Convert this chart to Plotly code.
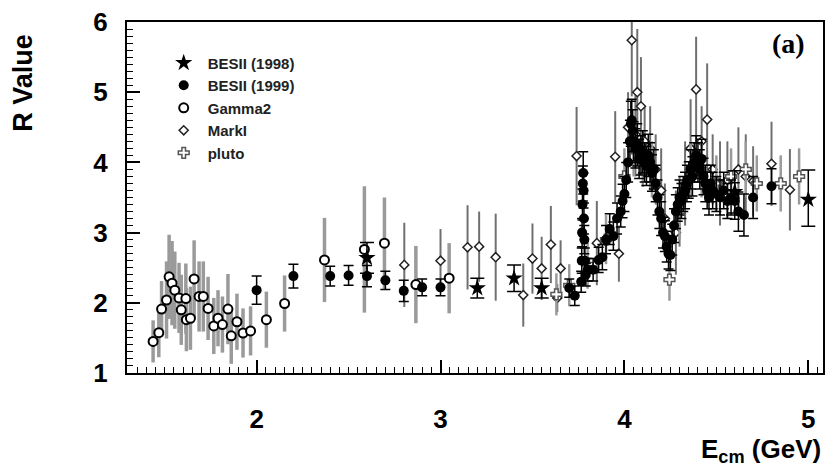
import plotly.graph_objects as go

# ---------------- data ----------------
# BESII (1998)  stars
b98_x = [2.6, 3.2, 3.4, 3.55, 4.6, 5.0]
b98_y = [2.64, 2.21, 2.35, 2.21, 3.58, 3.47]
b98_ep = [0.22, 0.14, 0.19, 0.14, 0.30, 0.42]
b98_em = [0.22, 0.14, 0.19, 0.14, 0.30, 0.38]

# BESII (1999)  filled circles
b99_x = [2.0, 2.2, 2.4, 2.5, 2.6, 2.7, 2.8, 2.9, 3.0, 3.7, 3.73,
         3.765, 3.768, 3.770, 3.772, 3.774, 3.776, 3.778, 3.780, 3.782, 3.785, 3.79,
         3.80, 3.83, 3.86, 3.88, 3.90, 3.92, 3.94, 3.96, 3.98, 3.99, 4.00, 4.01,
         4.02, 4.03, 4.035, 4.04, 4.045, 4.05, 4.06, 4.07, 4.08, 4.09, 4.10, 4.11,
         4.12, 4.13, 4.14, 4.15, 4.16, 4.17, 4.18, 4.19, 4.20, 4.21, 4.22, 4.23,
         4.24, 4.25, 4.26, 4.27, 4.28, 4.29, 4.30, 4.31, 4.32, 4.33, 4.34, 4.35,
         4.36, 4.37, 4.38, 4.39, 4.40, 4.41, 4.42, 4.43, 4.44, 4.45, 4.46, 4.47,
         4.48, 4.50, 4.52, 4.54, 4.56, 4.58, 4.60, 4.62, 4.65, 4.70, 4.80]
b99_y = [2.18, 2.38, 2.38, 2.39, 2.38, 2.32, 2.17, 2.22, 2.22, 2.21, 2.10,
         2.30, 2.60, 3.00, 3.40, 3.70, 3.85, 3.60, 3.20, 2.90, 2.60, 2.40,
         2.47, 2.47, 2.61, 2.65, 2.90, 3.05, 2.95, 3.20, 3.30, 3.45, 3.55, 3.75,
         4.00, 4.30, 4.55, 4.60, 4.45, 4.30, 4.20, 4.25, 4.05, 4.10, 4.15, 4.00,
         3.95, 4.10, 4.00, 3.85, 3.90, 3.70, 3.50, 3.30, 3.20, 3.00, 2.95, 2.80,
         2.70, 2.68, 2.90, 3.10, 3.30, 3.40, 3.50, 3.45, 3.55, 3.60, 3.70, 3.75,
         3.90, 3.80, 4.00, 4.10, 4.00, 3.90, 4.05, 3.80, 3.70, 3.60, 3.50, 3.70,
         3.60, 3.55, 3.50, 3.60, 3.45, 3.50, 3.45, 3.30, 3.25, 3.50, 3.66]
b99_e = [0.20, 0.17, 0.14, 0.14, 0.15, 0.13, 0.15, 0.12, 0.12, 0.13, 0.14,
         0.15, 0.18, 0.20, 0.22, 0.25, 0.30, 0.25, 0.22, 0.20, 0.18, 0.16,
         0.16, 0.16, 0.18, 0.18, 0.20, 0.22, 0.20, 0.22, 0.22, 0.24, 0.25, 0.25,
         0.28, 0.30, 0.32, 0.30, 0.30, 0.28, 0.28, 0.30, 0.28, 0.28, 0.30, 0.28,
         0.28, 0.30, 0.28, 0.26, 0.28, 0.26, 0.25, 0.24, 0.24, 0.22, 0.22, 0.22,
         0.22, 0.22, 0.22, 0.24, 0.24, 0.24, 0.25, 0.25, 0.25, 0.26, 0.26, 0.26,
         0.28, 0.28, 0.28, 0.28, 0.28, 0.28, 0.28, 0.26, 0.26, 0.26, 0.25, 0.26,
         0.26, 0.25, 0.25, 0.26, 0.25, 0.25, 0.26, 0.28, 0.30, 0.30, 0.25]

# Gamma2  open circles
g2_x = [1.437, 1.468, 1.483, 1.51, 1.524, 1.54, 1.555, 1.578, 1.59, 1.615, 1.618,
        1.64, 1.66, 1.687, 1.71, 1.736, 1.767, 1.79, 1.814, 1.844, 1.862, 1.893,
        1.926, 1.967, 2.053, 2.152, 2.369, 2.586, 2.695, 2.866, 3.047]
g2_y = [1.45, 1.575, 1.91, 2.04, 2.37, 2.28, 2.18, 2.07, 1.90, 2.06, 1.76,
        1.78, 2.34, 2.09, 2.09, 1.92, 1.67, 1.78, 1.69, 1.91, 1.53, 1.73,
        1.57, 1.60, 1.76, 1.99, 2.61, 2.76, 2.85, 2.26, 2.35]
g2_e = [0.30, 0.35, 0.40, 0.55, 0.60, 0.60, 0.55, 0.50, 0.50, 0.50, 0.45,
        0.45, 0.55, 0.50, 0.50, 0.45, 0.40, 0.40, 0.40, 0.50, 0.40, 0.40,
        0.35, 0.35, 0.40, 0.40, 0.60, 0.90, 0.65, 0.55, 0.50]

# MarkI  open diamonds
m1_x = [2.803, 3.0, 3.147, 3.21, 3.30, 3.45, 3.50, 3.55, 3.60, 3.635, 3.653,
        3.74, 3.85, 3.95, 3.97, 4.02, 4.04, 4.06, 4.07, 4.09, 4.11, 4.14, 4.17,
        4.20, 4.22, 4.28, 4.30, 4.33, 4.36, 4.39, 4.42, 4.45, 4.48, 4.52, 4.56,
        4.62, 4.66, 4.70, 4.80, 4.90]
m1_y = [2.54, 2.60, 2.79, 2.80, 2.65, 2.11, 2.63, 2.49, 2.83, 2.07, 2.49,
        4.09, 2.85, 4.08, 2.70, 4.50, 5.74, 4.40, 5.00, 4.80, 4.30, 4.20, 3.90,
        3.60, 3.20, 3.00, 3.30, 3.70, 4.20, 5.04, 4.30, 4.61, 3.90, 3.70, 3.75,
        3.90, 3.80, 3.73, 3.98, 3.61]
m1_e = [0.60, 0.45, 0.60, 0.50, 0.62, 0.45, 0.50, 0.45, 0.55, 0.20, 0.40,
        0.70, 0.60, 0.65, 0.40, 0.50, 0.80, 0.60, 0.90, 0.70, 0.50, 0.60, 0.50,
        0.60, 0.50, 0.60, 0.50, 0.60, 0.70, 0.75, 0.50, 0.80, 0.50, 0.60, 0.55,
        0.60, 0.60, 0.50, 0.60, 0.58]

# pluto  open crosses
pl_x = [3.63, 3.70, 3.80, 3.90, 4.00, 4.05, 4.10, 4.15, 4.245, 4.30, 4.36,
        4.42, 4.50, 4.58, 4.66, 4.72, 4.85, 4.95]
pl_y = [2.12, 2.25, 2.55, 2.90, 3.80, 4.20, 4.05, 3.90, 2.33, 3.30, 3.90,
        3.90, 3.70, 3.80, 3.90, 3.70, 3.70, 3.80]
pl_e = [0.30, 0.30, 0.35, 0.35, 0.40, 0.40, 0.40, 0.40, 0.30, 0.40, 0.40,
        0.40, 0.40, 0.40, 0.40, 0.40, 0.40, 0.40]

x_ticks = [2, 3, 4, 5]
y_ticks = [1, 2, 3, 4, 5, 6]

# ---------------- figure ----------------
FONT = "Liberation Sans"
fig = go.Figure()

fig.add_trace(go.Scatter(
    x=g2_x, y=g2_y, mode="markers", name="<b>Gamma2</b>", legendrank=3,
    error_y=dict(type="data", array=g2_e, color="#9a9a9a", thickness=3.5, width=0),
    marker=dict(symbol="circle", size=9, color="white",
                line=dict(color="black", width=2)),
))
fig.add_trace(go.Scatter(
    x=m1_x, y=m1_y, mode="markers", name="<b>MarkI</b>", legendrank=4,
    error_y=dict(type="data", array=m1_e, color="#707070", thickness=2, width=0),
    marker=dict(symbol="diamond", size=7, color="white",
                line=dict(color="#222222", width=1.5)),
))
fig.add_trace(go.Scatter(
    x=pl_x, y=pl_y, mode="markers", name="<b>pluto</b>", legendrank=5,
    error_y=dict(type="data", array=pl_e, color="#9a9a9a", thickness=2.5, width=0),
    marker=dict(symbol="cross", size=9, color="white",
                line=dict(color="#555555", width=1.5)),
))
fig.add_trace(go.Scatter(
    x=b99_x, y=b99_y, mode="markers", name="<b>BESII (1999)</b>", legendrank=2,
    error_y=dict(type="data", array=b99_e, color="black", thickness=1.5, width=5),
    marker=dict(symbol="circle", size=10, color="black"),
))
fig.add_trace(go.Scatter(
    x=b98_x, y=b98_y, mode="markers", name="<b>BESII (1998)</b>", legendrank=1,
    error_y=dict(type="data", array=b98_ep, arrayminus=b98_em, color="black",
                 thickness=1.5, width=7),
    marker=dict(symbol="star", size=13, color="black"),
))

fig.update_layout(
    width=828, height=468,
    margin=dict(l=127, r=3, t=22, b=95),
    paper_bgcolor="white", plot_bgcolor="white",
    font=dict(family=FONT, color="black"),
    showlegend=True,
    legend=dict(x=0.047, y=0.93, xanchor="left", yanchor="top",
                bgcolor="rgba(0,0,0,0)", font=dict(size=15, color="#222222"),
                tracegroupgap=0, itemsizing="trace", itemwidth=38),
    xaxis=dict(range=[1.295, 5.08], tickvals=x_ticks, ticks="inside", ticklen=13,
               tickwidth=1.5, tickcolor="black", showgrid=False, zeroline=False,
               showline=True, linecolor="black", linewidth=2, mirror=True,
               tickfont=dict(size=26, family=FONT, weight="bold"),
               ticklabelstandoff=22,
               minor=dict(dtick=0.05, ticks="inside", ticklen=6, tickcolor="black",
                          tickwidth=1, showgrid=False)),
    yaxis=dict(range=[1, 6], tickvals=y_ticks, ticks="inside", ticklen=13,
               tickwidth=1.5, tickcolor="black", showgrid=False, zeroline=False,
               showline=True, linecolor="black", linewidth=2, mirror=True,
               tickfont=dict(size=26, family=FONT, weight="bold"),
               ticklabelstandoff=12,
               minor=dict(dtick=0.1, ticks="inside", ticklen=6, tickcolor="black",
                          tickwidth=1, showgrid=False)),
    annotations=[
        dict(text="<b>R Value</b>", xref="paper", yref="paper", x=-0.150, y=0.826,
             textangle=-90, showarrow=False, font=dict(size=27, family=FONT),
             xanchor="center", yanchor="middle"),
        dict(text="<b>E<sub>cm</sub> (GeV)</b>", xref="paper", yref="paper", x=1.0,
             y=-0.22, showarrow=False, font=dict(size=26, family=FONT),
             xanchor="right", yanchor="middle"),
        dict(text="<b>(a)</b>", xref="paper", yref="paper", x=0.95, y=0.94,
             showarrow=False, font=dict(size=28, family="Liberation Serif"),
             xanchor="center", yanchor="middle"),
    ],
)

fig.write_html("out.html")
